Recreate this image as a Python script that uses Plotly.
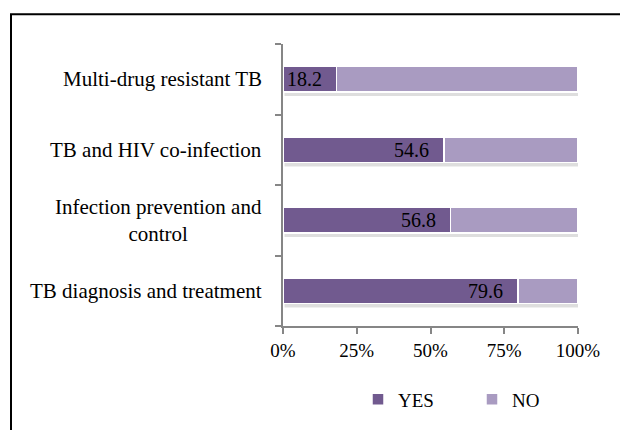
import plotly.graph_objects as go

categories = ["TB diagnosis and treatment", "Infection prevention and<br>control",
              "TB and HIV co-infection", "Multi-drug resistant TB"]
yes_vals = [79.6, 56.8, 54.6, 18.2]
no_vals = [20.4, 43.2, 45.4, 81.8]
x_ticks = [0, 25, 50, 75, 100]
x_tick_labels = ["0%", "25%", "50%", "75%", "100%"]

FONT = "Liberation Serif"
YES_COLOR = "#715a8f"
NO_COLOR = "#a99bc1"
W, H = 620, 430
L, R, T, B = 283, 42, 44, 102
pw, ph = W - L - R, H - T - B

fig = go.Figure()
fig.add_trace(go.Bar(y=categories, x=yes_vals, name="YES", orientation="h",
                     marker=dict(color=YES_COLOR, line=dict(color="white", width=1.5))))
fig.add_trace(go.Bar(y=categories, x=no_vals, name="NO", orientation="h",
                     marker=dict(color=NO_COLOR, line=dict(color="white", width=1.5))))

annotations = []
for i, (c, v) in enumerate(zip(categories, yes_vals)):
    annotations.append(dict(x=v, y=c, xref="x", yref="y", text=f"{v:.1f}", showarrow=False,
                            xanchor="right", xshift=-13,
                            font=dict(family=FONT, size=20, color="black")))
    annotations.append(dict(x=0, y=c, xref="x", yref="y", text=c, showarrow=False,
                            xanchor="right", xshift=-19, align="center",
                            font=dict(family=FONT, size=21, color="black")))

shapes = []
half = (1 - 0.634) / 2
for i, c in enumerate(categories):
    total = yes_vals[i] + no_vals[i]
    shapes.append(dict(type="rect", xref="x", yref="y", x0=0.5, x1=total + 0.8,
                       y0=i - half - 0.055, y1=i - half, fillcolor="rgba(0,0,0,0.13)",
                       line=dict(width=0), layer="below"))

# outer border (extends past the right/bottom edges of the page)
shapes.append(dict(type="rect", xref="paper", yref="paper",
                   x0=(11 - L) / pw, x1=2.0,
                   y0=-1.0, y1=(T + ph - 14) / ph,
                   line=dict(color="black", width=2), fillcolor="rgba(0,0,0,0)"))

fig.update_layout(
    width=W, height=H, margin=dict(l=L, r=R, t=T, b=B),
    barmode="stack", bargap=0.634,
    plot_bgcolor="white", paper_bgcolor="white",
    font=dict(family=FONT, size=19, color="black"),
    xaxis=dict(range=[0, 100], tickvals=x_ticks, ticktext=x_tick_labels,
               showgrid=False, zeroline=False, showline=True, linecolor="#868686", linewidth=1.5,
               ticks="outside", ticklen=6, tickcolor="#868686", tickwidth=1.5,
               tickfont=dict(family=FONT, size=19, color="black")),
    yaxis=dict(showticklabels=False, showgrid=False, zeroline=False, showline=True,
               linecolor="#868686", linewidth=1.5, ticks="outside", tickson="boundaries",
               ticklen=6, tickcolor="#868686", tickwidth=1.5, range=[-0.5, 3.5]),
    legend=dict(orientation="h", x=(472 - L) / pw, xanchor="center", y=(T + ph - 402) / ph,
                yanchor="middle", font=dict(family=FONT, size=19, color="black"),
                traceorder="normal", entrywidth=69, entrywidthmode="pixels"),
    annotations=annotations, shapes=shapes,
)

fig.write_html("out.html")
